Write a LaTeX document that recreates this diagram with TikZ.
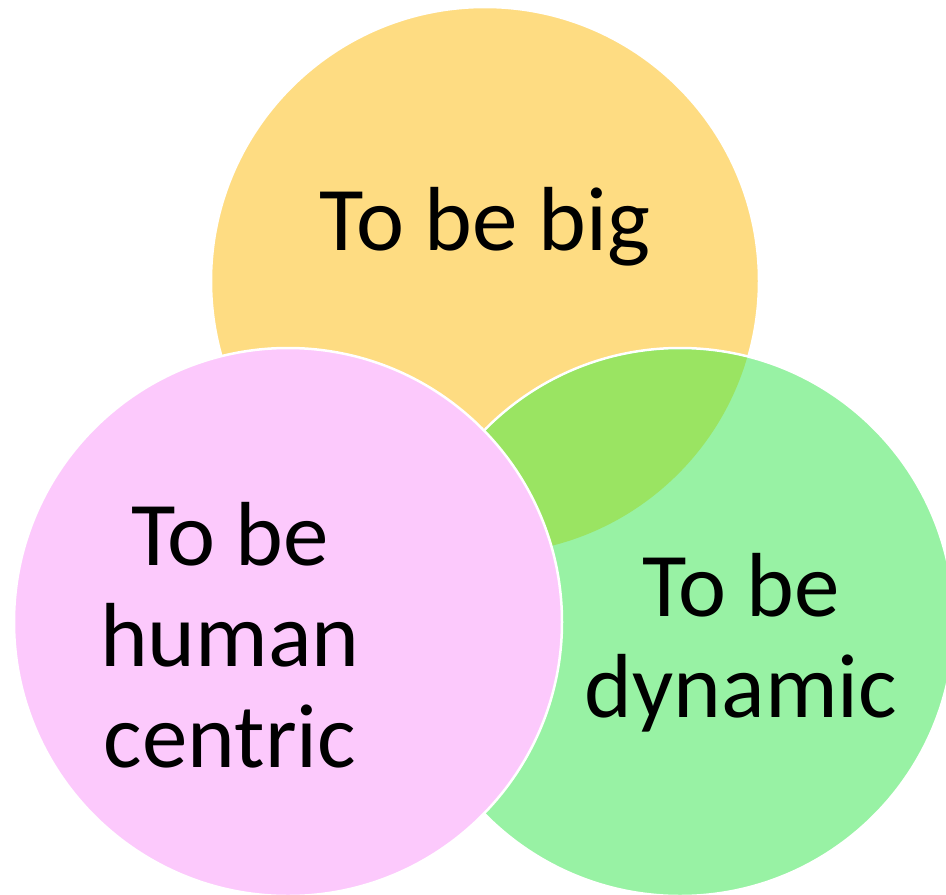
\documentclass[tikz,border=0pt]{standalone}
\usepackage{fontspec}
\setmainfont{Carlito}
\definecolor{bigyellow}{HTML}{FEDC82}
\definecolor{dyngreen}{HTML}{98F2A4}
\definecolor{bothgreen}{HTML}{9AE462}
\definecolor{humanpink}{HTML}{FCC9FC}

\begin{document}
\begin{tikzpicture}[x=1pt, y=-1pt,
  every node/.style={inner sep=0pt, outer sep=0pt},
  blob/.style={circle, draw=white, line width=2.5pt, minimum size=548pt},
  words/.style={font=\fontsize{91}{101}\selectfont, align=center, text=black}]
\useasboundingbox (0,0) rectangle (946,895);
\node[blob, fill=bigyellow] (big) at (485,281) {};
\node[blob, fill=dyngreen] (dyn) at (680,622) {};
% overlap of big and dynamic
\begin{scope}
\clip (big.center) circle (273pt);
\fill[bothgreen] (dyn.center) circle (272.5pt);
\end{scope}
\node[blob, fill=humanpink] (human) at (288,622) {};
\node[words, anchor=base] (bigtext) at (485,250) {To be big};
\node[words, anchor=base] (humantext) at (230,767) {To be\\human\\centric};
\node[words, anchor=base] (dyntext) at (741,717) {To be\\dynamic};
\end{tikzpicture}
\end{document}
